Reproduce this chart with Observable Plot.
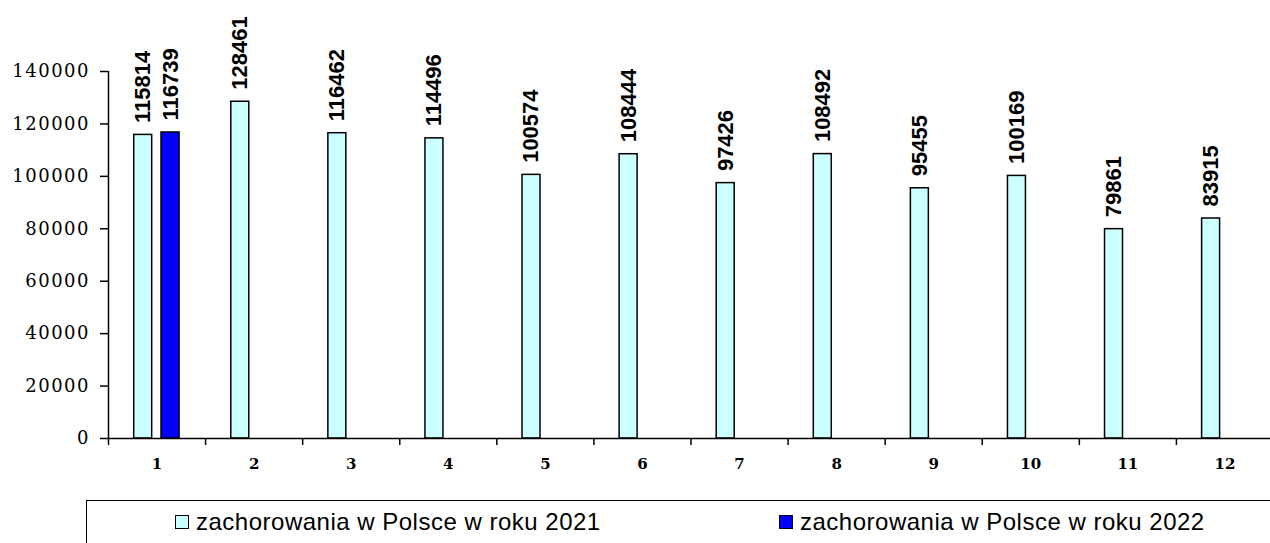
<!DOCTYPE html>
<html><head><meta charset="utf-8">
<script src="https://cdn.jsdelivr.net/npm/d3@7"></script>
<script src="https://cdn.jsdelivr.net/npm/@observablehq/plot@0.6"></script>
<style>
body{margin:0;background:#fff;}
#chart svg{display:block;}
g[aria-label="y-axis tick label"] text{letter-spacing:1.5px;}
.legend{margin-left:86px;height:43px;border-top:1.5px solid #000;border-left:1.5px solid #000;position:relative;font-family:"Liberation Sans",Arial,sans-serif;font-size:24px;letter-spacing:0.5px;color:#000;}
.item{position:absolute;top:7px;display:flex;align-items:center;white-space:nowrap;}
.sw{width:12px;height:12px;border:1.5px solid #000;margin-right:7px;}
</style></head><body>
<div id="chart"></div>
<div class="legend" id="legend"></div>
<script>
const months = [1,2,3,4,5,6,7,8,9,10,11,12];
const values2021 = [115814,128461,116462,114496,100574,108444,97426,108492,95455,100169,79861,83915];
const months2022 = [1];
const values2022 = [116739];
const seriesNames = ["zachorowania w Polsce w roku 2021","zachorowania w Polsce w roku 2022"];
const seriesColors = ["#CCFFFF","#0000FF"];
const yTicks = [0,20000,40000,60000,80000,100000,120000,140000];

const data2021 = months.map((m,i)=>({month:m, value:values2021[i]}));
const data2022 = months2022.map((m,i)=>({month:m, value:values2022[i]}));
const boundaries = [...months.map(m=>m-0.5), months[months.length-1]+0.5];

const plot = Plot.plot({
  width:1270, height:500,
  marginLeft:108, marginRight:0, marginTop:71, marginBottom:62,
  x:{type:"linear", domain:[0.5,12.5], range:[108,1273]},
  y:{domain:[0,140000]},
  style:{background:"#fff", color:"#000"},
  marks:[
    Plot.rect(data2021,{x1:d=>d.month-0.5,x2:d=>d.month+0.5,y1:0,y2:"value",fill:seriesColors[0],stroke:"#000",strokeWidth:1.5,insetLeft:25.7,insetRight:53.4}),
    Plot.rect(data2022,{x1:d=>d.month-0.5,x2:d=>d.month+0.5,y1:0,y2:"value",fill:seriesColors[1],stroke:"#000",strokeWidth:1.5,insetLeft:53,insetRight:26}),
    Plot.ruleY([0],{strokeWidth:1.5}),
    Plot.ruleX([0.5],{y1:0,y2:140000,strokeWidth:1.5}),
    Plot.axisY({ticks:yTicks, tickSize:8, tickPadding:10.5, tickFormat:d=>String(d), label:null, fontSize:18, fontFamily:"DejaVu Serif", strokeWidth:1.5}),
    Plot.axisX({ticks:boundaries, tickSize:7, tickFormat:()=>"", label:null, strokeWidth:1.5}),
    Plot.axisX({ticks:months, tickSize:0, tickPadding:20, tickFormat:d=>String(d), label:null, fontSize:15, fontWeight:"bold", fontFamily:"DejaVu Serif"}),
    Plot.text(data2021,{x:"month", y:"value", text:d=>String(d.value), rotate:-90, textAnchor:"start", dx:-14, dy:-12, fontSize:22, fontWeight:"bold", fontFamily:"Liberation Sans"}),
    Plot.text(data2022,{x:"month", y:"value", text:d=>String(d.value), rotate:-90, textAnchor:"start", dx:13.5, dy:-12, fontSize:22, fontWeight:"bold", fontFamily:"Liberation Sans"})
  ]
});
document.getElementById("chart").appendChild(plot);

const legend = document.getElementById("legend");
const legendLefts = [88, 692];
seriesNames.forEach((name,i)=>{
  const item = document.createElement("div");
  item.className = "item";
  item.style.left = legendLefts[i] + "px";
  const sw = document.createElement("span");
  sw.className = "sw";
  sw.style.background = seriesColors[i];
  const t = document.createElement("span");
  t.textContent = name;
  item.appendChild(sw); item.appendChild(t);
  legend.appendChild(item);
});
</script>
</body></html>
